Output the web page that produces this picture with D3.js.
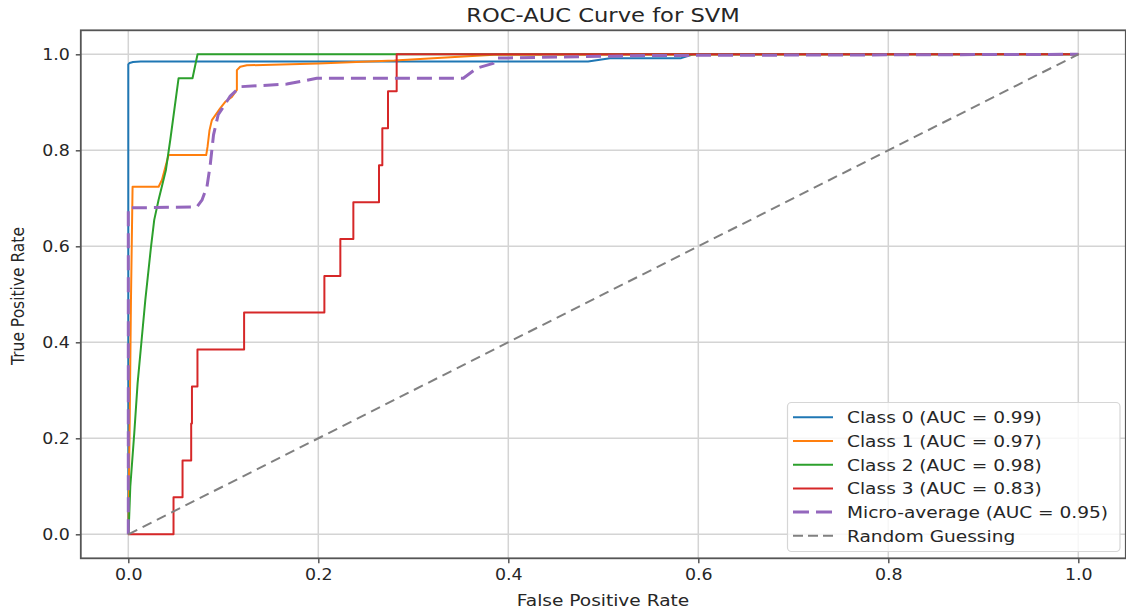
<!DOCTYPE html>
<html>
<head>
<meta charset="utf-8">
<script src="https://cdn.jsdelivr.net/npm/d3@7"></script>
<style>
  html, body { margin: 0; padding: 0; background: #fff; }
  svg { display: block; font-family: "DejaVu Sans", sans-serif; }
</style>
</head>
<body>
<svg class="display"></svg>
<script>
// values
const class0Fpr = [0, 0, 0.0014, 0.005, 0.013, 0.484, 0.507, 0.582, 0.595, 1.0];
const class0Tpr = [0, 0.979, 0.982, 0.984, 0.985, 0.985, 0.992, 0.992, 1.0, 1.0];

const class1Fpr = [0, 0.0015, 0.0028, 0.0037, 0.0045, 0.0319, 0.0354, 0.0424, 0.082, 0.0834, 0.0855, 0.088, 0.0967, 0.102, 0.109, 0.1143, 0.1143, 0.1178, 0.1248, 0.2, 0.28, 0.33, 0.385, 1.0];
const class1Tpr = [0, 0.24, 0.488, 0.613, 0.724, 0.724, 0.738, 0.790, 0.790, 0.807, 0.842, 0.863, 0.8875, 0.901, 0.911, 0.926, 0.967, 0.974, 0.977, 0.981, 0.987, 0.993, 0.999, 1.0];

const class2Fpr = [0, 0.0003, 0.0021, 0.0063, 0.0098, 0.0137, 0.0179, 0.0239, 0.0273, 0.0319, 0.0396, 0.0442, 0.0529, 0.0676, 0.0729, 1.0];
const class2Tpr = [0, 0.003, 0.099, 0.211, 0.315, 0.398, 0.488, 0.599, 0.655, 0.697, 0.759, 0.822, 0.95, 0.95, 1.0, 1.0];

const class3Fpr = [0, 0.0476, 0.0476, 0.0571, 0.0571, 0.0662, 0.0662, 0.0670, 0.0670, 0.0728, 0.0728, 0.1219, 0.1219, 0.2064, 0.2064, 0.2232, 0.2232, 0.2369, 0.2369, 0.2639, 0.2639, 0.2674, 0.2674, 0.2734, 0.2734, 0.2825, 0.2825, 1.0];
const class3Tpr = [0, 0, 0.077, 0.077, 0.154, 0.154, 0.231, 0.231, 0.308, 0.308, 0.385, 0.385, 0.462, 0.462, 0.538, 0.538, 0.615, 0.615, 0.692, 0.692, 0.769, 0.769, 0.846, 0.846, 0.923, 0.923, 1.0, 1.0];

const microFpr = [0, 0, 0.0722, 0.0775, 0.0828, 0.0862, 0.0897, 0.0946, 0.1002, 0.1073, 0.1178, 0.1669, 0.1984, 0.3526, 0.3667, 0.3841, 0.3877, 0.549, 1.0];
const microTpr = [0, 0.680, 0.682, 0.696, 0.724, 0.769, 0.832, 0.874, 0.891, 0.913, 0.9325, 0.938, 0.95, 0.95, 0.971, 0.981, 0.992, 0.9975, 1.0];

const randomFpr = [0, 1];
const randomTpr = [0, 1];

const seriesLabels = [
  'Class 0 (AUC = 0.99)',
  'Class 1 (AUC = 0.97)',
  'Class 2 (AUC = 0.98)',
  'Class 3 (AUC = 0.83)',
  'Micro-average (AUC = 0.95)',
  'Random Guessing'
];
const seriesColors = ['#1f77b4', '#ff7f0e', '#2ca02c', '#d62728', '#9467bd', '#808080'];

const xTicks = [0, 0.2, 0.4, 0.6, 0.8, 1.0];
const yTicks = [0, 0.2, 0.4, 0.6, 0.8, 1.0];

const width = 1126;
const height = 613;
const sx = 1.16; // the reference text is slightly stretched sideways

const svg = d3.select('.display')
  .attr('width', width)
  .attr('height', height);

const x = d3.scaleLinear().domain([-0.05, 1.05]).range([80.8, 1125.8]);
const y = d3.scaleLinear().domain([-0.05, 1.05]).range([558.3, 30.3]);

const series = [
  { fpr: class0Fpr, tpr: class0Tpr, w: 2, dash: null },
  { fpr: class1Fpr, tpr: class1Tpr, w: 2, dash: null },
  { fpr: class2Fpr, tpr: class2Tpr, w: 2, dash: null },
  { fpr: class3Fpr, tpr: class3Tpr, w: 2, dash: null },
  { fpr: microFpr, tpr: microTpr, w: 3, dash: '15,7' },
  { fpr: randomFpr, tpr: randomTpr, w: 2, dash: '10,6' }
];
series.forEach((s, i) => { s.label = seriesLabels[i]; s.color = seriesColors[i]; });

function label(sel, px, py, size, anchor, rot) {
  return sel.append('text')
    .attr('transform', 'translate(' + px + ',' + py + ') scale(' + sx + ',1)' + (rot ? ' rotate(' + rot + ')' : ''))
    .attr('text-anchor', anchor)
    .attr('font-size', size)
    .attr('fill', '#262626');
}

svg.append('clipPath').attr('id', 'plot')
  .append('rect')
  .attr('x', x.range()[0]).attr('y', y.range()[1])
  .attr('width', x.range()[1] - x.range()[0])
  .attr('height', y.range()[0] - y.range()[1]);

// grid
const grid = svg.append('g').attr('stroke', '#d4d4d4').attr('stroke-width', 1.5);
grid.selectAll('.gx').data(xTicks).enter().append('line')
  .attr('x1', d => x(d)).attr('x2', d => x(d))
  .attr('y1', y.range()[1]).attr('y2', y.range()[0]);
grid.selectAll('.gy').data(yTicks).enter().append('line')
  .attr('y1', d => y(d)).attr('y2', d => y(d))
  .attr('x1', x.range()[0]).attr('x2', x.range()[1]);

// curves
const line = d3.line().x(d => x(d[0])).y(d => y(d[1]));
svg.append('g').attr('clip-path', 'url(#plot)')
  .selectAll('path').data(series).enter().append('path')
    .attr('d', s => line(s.fpr.map((f, i) => [f, s.tpr[i]])))
    .attr('fill', 'none')
    .attr('stroke', s => s.color)
    .attr('stroke-width', s => s.w)
    .attr('stroke-dasharray', s => s.dash)
    .attr('stroke-linejoin', 'round');

// axes frame
svg.append('rect')
  .attr('x', x.range()[0]).attr('y', y.range()[1])
  .attr('width', x.range()[1] - x.range()[0])
  .attr('height', y.range()[0] - y.range()[1])
  .attr('fill', 'none').attr('stroke', '#555').attr('stroke-width', 1.8);

const xAxis = svg.append('g')
  .attr('transform', 'translate(0,' + y.range()[0] + ')')
  .call(d3.axisBottom(x).tickValues(xTicks).tickSize(5).tickPadding(6).tickFormat(d3.format('.1f')));
const yAxis = svg.append('g')
  .attr('transform', 'translate(' + x.range()[0] + ',0)')
  .call(d3.axisLeft(y).tickValues(yTicks).tickSize(5).tickPadding(6).tickFormat(d3.format('.1f')));
[xAxis, yAxis].forEach(a => {
  a.select('.domain').remove();
  a.selectAll('.tick line').attr('stroke', '#555').attr('stroke-width', 1.5);
  a.selectAll('.tick text').attr('fill', '#262626').attr('font-size', 15)
    .attr('font-family', '"DejaVu Sans", sans-serif');
});
xAxis.selectAll('.tick text').attr('transform', 'scale(' + sx + ',1)');
yAxis.selectAll('.tick text').each(function () {
  const t = d3.select(this);
  t.attr('transform', 'translate(-11,0) scale(' + sx + ',1) translate(11,0)');
});

// titles
label(svg, 603, 22, 19.5, 'middle').text('ROC-AUC Curve for SVM');
label(svg, 603, 606, 16, 'middle').text('False Positive Rate');
label(svg, 24, 296, 15.5, 'middle', -90).text('True Positive Rate');

// legend
const lg = svg.append('g');
lg.append('rect')
  .attr('x', 787.5).attr('y', 402.5).attr('width', 332.5).attr('height', 149)
  .attr('rx', 4).attr('fill', '#fff').attr('fill-opacity', 0.8)
  .attr('stroke', '#d6d6d6').attr('stroke-width', 1.2);
const rows = lg.selectAll('.row').data(series).enter().append('g')
  .attr('transform', (d, i) => 'translate(0,' + (417.3 + i * 23.7) + ')');
rows.append('line')
  .attr('x1', 793).attr('x2', 833)
  .attr('stroke', d => d.color)
  .attr('stroke-width', d => d.w)
  .attr('stroke-dasharray', (d, i) => i === 4 ? '16,7' : (i === 5 ? '10,5' : null));
rows.each(function (d) {
  label(d3.select(this), 847, 6, 16, 'start').text(d.label);
});
</script>
</body>
</html>
